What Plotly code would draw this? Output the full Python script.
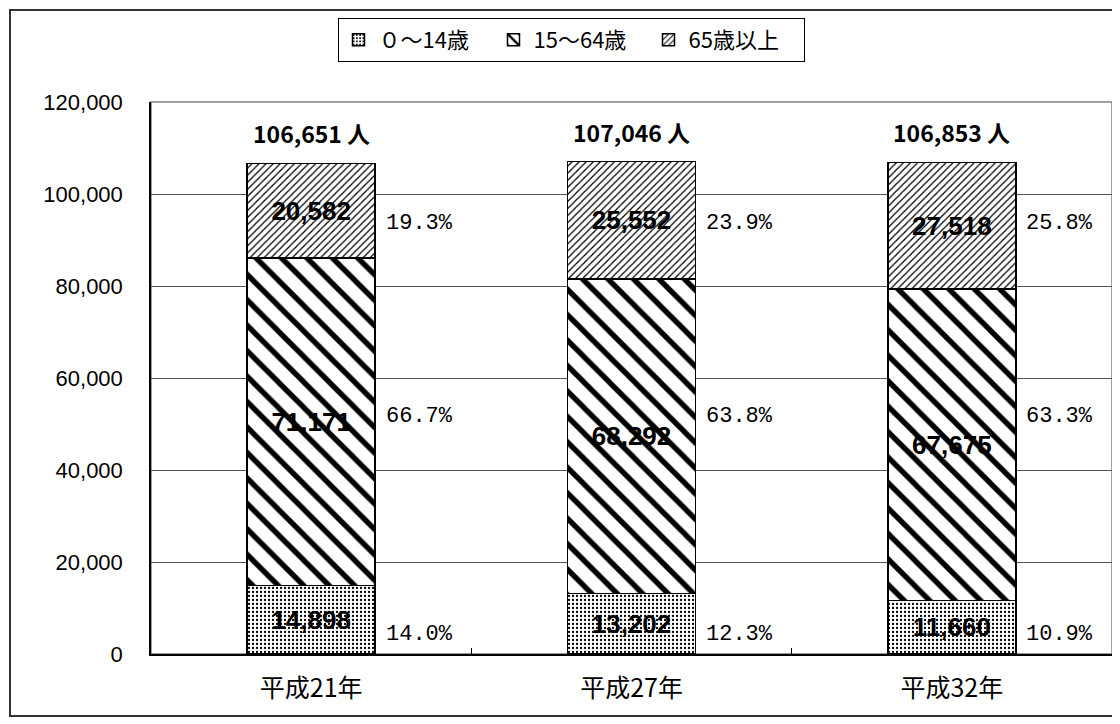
import plotly.graph_objects as go

categories = ["平成21年", "平成27年", "平成32年"]
age_0_14 = [14898, 13202, 11660]
age_15_64 = [71171, 68292, 67675]
age_65_up = [20582, 25552, 27518]
totals = [106651, 107046, 106853]
pct_0_14 = ["14.0%", "12.3%", "10.9%"]
pct_15_64 = ["66.7%", "63.8%", "63.3%"]
pct_65_up = ["19.3%", "23.9%", "25.8%"]
series_names = ["０〜14歳", "15〜64歳", "65歳以上"]
y_ticks = [0, 20000, 40000, 60000, 80000, 100000, 120000]

# label rows for the percentage text boxes (fixed heights as in the source)
pct_rows = [(pct_0_14, 4300), (pct_15_64, 51700), (pct_65_up, 93500)]

FONT = "Liberation Sans, Noto Sans CJK JP, sans-serif"
JFONT = "Noto Sans CJK JP, Liberation Sans, sans-serif"

# figure geometry (page has an 8px body margin)
W, H = 1120, 724
ML, MR, MT, MB = 143, 16, 94, 78
PW, PH = W - ML - MR, H - MT - MB

fig = go.Figure()

styles = [
    dict(shape=".", size=4, solidity=0.25),
    dict(shape="\\", size=18, solidity=0.3),
    dict(shape="/", size=5, solidity=0.25),
]

for name, vals, st in zip(series_names, [age_0_14, age_15_64, age_65_up], styles):
    fig.add_trace(go.Bar(
        x=categories, y=vals, name=name,
        width=0.4,
        marker=dict(color="white", line=dict(color="black", width=1.5),
                    pattern=dict(shape=st["shape"], size=st["size"], solidity=st["solidity"],
                                 fgcolor="black", bgcolor="white", fgopacity=1,
                                 fillmode="replace")),
        text=[f"{v:,}" for v in vals],
        textposition="inside", insidetextanchor="middle",
        textfont=dict(family=FONT, size=26, color="black", weight="bold"),
        textangle=0,
        hoverinfo="skip",
    ))

annotations = []
for c, t in zip(categories, totals):
    annotations.append(dict(x=c, y=t, xref="x", yref="y", text=f"{t:,} 人",
                            showarrow=False, yshift=30,
                            font=dict(family=JFONT, size=23, color="black", weight="bold")))
for labels, ypos in pct_rows:
    for c, p in zip(categories, labels):
        annotations.append(dict(x=c, y=ypos, xref="x", yref="y", text=p,
                                showarrow=False, xshift=108,
                                font=dict(family="Liberation Mono, monospace",
                                          size=22, color="black")))

fig.update_layout(
    barmode="stack",
    width=W, height=H,
    margin=dict(l=ML, r=MR, t=MT, b=MB, autoexpand=False),
    paper_bgcolor="white", plot_bgcolor="white",
    font=dict(family=FONT, size=22, color="black"),
    showlegend=True,
    legend=dict(orientation="h", x=(571 - 8 - ML) / PW, y=(MT + PH - 10) / PH,
                xanchor="center", yanchor="top",
                bordercolor="black", borderwidth=1, bgcolor="white",
                font=dict(family=JFONT, size=22), traceorder="normal",
                itemwidth=30, entrywidth=110, entrywidthmode="pixels"),
    annotations=annotations,
    shapes=[dict(type="rect", xref="paper", yref="paper",
                 x0=(2 - ML) / PW, x1=(W + 20 - ML) / PW,
                 y0=(MT + PH - 708) / PH, y1=(MT + PH - 2) / PH,
                 line=dict(color="#333333", width=2), layer="below")],
)

fig.update_xaxes(
    type="category", range=[-0.5, 2.5], automargin=False,
    showline=True, linecolor="black", linewidth=1.5, mirror=False,
    ticks="inside", tickson="boundaries", ticklen=6, tickcolor="black",
    tickfont=dict(family=JFONT, size=25), showgrid=False,
    ticklabelstandoff=11,
)
fig.update_yaxes(
    range=[0, 120000], tickvals=y_ticks, ticktext=[f"{v:,}" for v in y_ticks],
    automargin=False,
    showline=True, linecolor="black", linewidth=1.5,
    showgrid=True, gridcolor="#555555", gridwidth=1,
    ticks="outside", ticklen=0, tickfont=dict(family=FONT, size=22),
    zeroline=False, ticklabelstandoff=22,
)
# top & right frame in gray
fig.add_shape(type="rect", xref="paper", yref="paper", x0=0, x1=1, y0=0, y1=1,
              line=dict(color="#808080", width=1.5), layer="below")

fig.write_html("out.html")
